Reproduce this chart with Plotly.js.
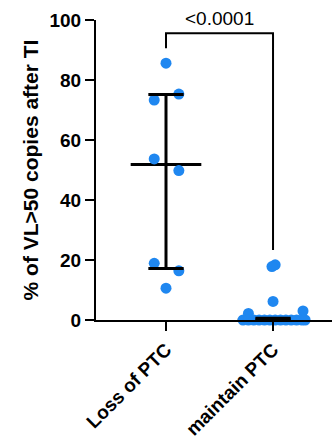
<!DOCTYPE html>
<html>
<head>
<meta charset="utf-8">
<script src="https://cdn.plot.ly/plotly-3.0.1.min.js"></script>
<style>html,body{margin:0;padding:0;background:#fff;}#chart{width:332px;height:442px;}</style>
</head>
<body>
<div id="chart"></div>
<script>
// ---- data ----
const categories = ["Loss of PTC", "maintain PTC"];
const lossValues = [85.6, 75.3, 73.3, 53.7, 49.8, 18.9, 16.4, 10.6];
const lossJitter = [0.0, 0.12, -0.11, -0.11, 0.12, -0.11, 0.12, 0.0];
const maintainValues = [18.4, 17.8, 6.2, 2.2, 3.0, 0, 0, 0, 0, 0, 0, 0, 0, 0, 0, 0, 0, 0];
const maintainJitter = [0.02, -0.01, 0.0, -0.23, 0.28, -0.28, -0.23, -0.18, -0.13, -0.08, -0.03, 0.02, 0.07, 0.12, 0.17, 0.22, 0.27, 0.30];
const medians = [51.8, 0];
const q1 = [17.2, 0];
const q3 = [75.2, 0.6];
const pLabel = "&lt;0.0001";
const bracketX = [0, 0, 1, 1];
const bracketY = [90.6, 95.6, 95.6, 23.3];
const yTicks = [0, 20, 40, 60, 80, 100];
const yTitle = "% of VL>50 copies after TI";

const blue = "#1f87f0";
const font = "Liberation Sans, Arial, sans-serif";

const ptsX = [], ptsY = [];
lossValues.forEach((v, k) => { ptsX.push(0 + lossJitter[k]); ptsY.push(v); });
maintainValues.forEach((v, k) => { ptsX.push(1 + maintainJitter[k]); ptsY.push(v); });

const medW = 0.33, capW = 0.165;
const medX = [], medY = [], barX = [], barY = [];
categories.forEach((c, i) => {
  medX.push(i - medW, i + medW, null); medY.push(medians[i], medians[i], null);
  barX.push(i - capW, i + capW, null, i - capW, i + capW, null, i, i, null);
  barY.push(q3[i], q3[i], null, q1[i], q1[i], null, q1[i], q3[i], null);
});

const traces = [
  {x: medX, y: medY, mode: "lines", line: {color: "#000", width: 3}, cliponaxis: false, hoverinfo: "skip"},
  {x: ptsX, y: ptsY, mode: "markers", marker: {color: blue, size: 11}, cliponaxis: false},
  {x: barX, y: barY, mode: "lines", line: {color: "#000", width: 3}, cliponaxis: false, hoverinfo: "skip"},
  {x: bracketX, y: bracketY, mode: "lines", line: {color: "#000", width: 2}, cliponaxis: false, hoverinfo: "skip"}
];

const layout = {
  width: 332, height: 442,
  margin: {l: 96, r: 0, t: 20, b: 122},
  showlegend: false,
  plot_bgcolor: "#fff", paper_bgcolor: "#fff",
  xaxis: {
    range: [-0.654, 1.551], tickvals: [0, 1], ticktext: categories.map(c => "<b>" + c + "</b>"),
    tickangle: -45, ticks: "outside", ticklen: 9, tickwidth: 2, tickcolor: "#000",
    showline: true, linecolor: "#000", linewidth: 2, showgrid: false, zeroline: false,
    tickfont: {family: font, size: 19, color: "#000"}, automargin: false
  },
  yaxis: {
    range: [0, 100], tickvals: yTicks, ticktext: yTicks.map(t => "<b>" + t + "</b>"),
    ticks: "outside", ticklen: 9, tickwidth: 2, tickcolor: "#000",
    showline: true, linecolor: "#000", linewidth: 2, showgrid: false, zeroline: false,
    tickfont: {family: font, size: 19, color: "#000"}, automargin: false,
    title: {text: "<b>" + yTitle.replace(">", "&gt;") + "</b>", font: {family: font, size: 21, color: "#000"}, standoff: 5}
  },
  annotations: [{
    x: 0.5, y: 100, xref: "x", yref: "y", text: pLabel, showarrow: false,
    yanchor: "middle", xanchor: "center", yshift: 2,
    font: {family: font, size: 19, color: "#000"}
  }]
};

Plotly.newPlot("chart", traces, layout, {displayModeBar: false, staticPlot: true});
</script>
</body>
</html>
